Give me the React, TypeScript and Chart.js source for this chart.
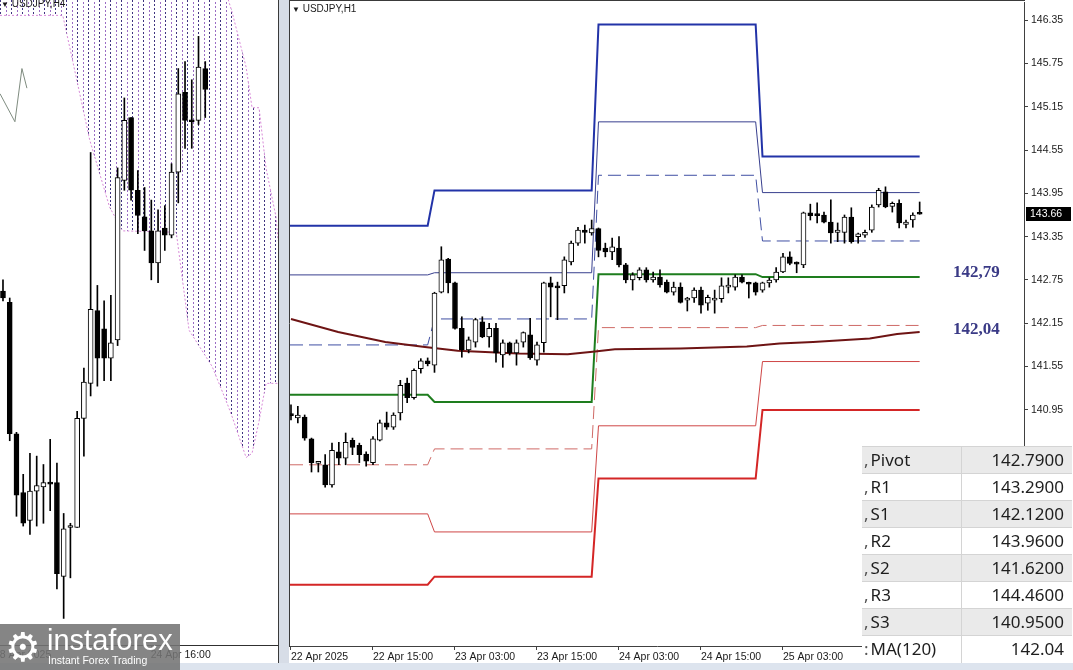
import React, { useEffect, useRef } from 'react';
import { Chart, registerables } from 'chart.js';

Chart.register(...registerables);

// ================= H1 (main panel) data =================
const H1_OPEN = [
  140.89, 140.84, 140.85, 140.55, 140.21, 140.19, 139.91, 140.37, 140.28, 140.53,
  140.46, 140.34, 140.22, 140.53, 140.77, 140.71, 140.91, 141.32, 141.12, 141.52,
  141.63, 141.57, 142.58, 143.04, 142.71, 142.08, 141.78, 141.89, 142.17, 141.96,
  142.08, 141.71, 141.88, 141.74, 141.89, 141.99, 141.64, 141.88, 142.71, 142.65,
  142.67, 143.00, 143.26, 143.44, 143.40, 143.46, 143.19, 143.14, 143.19, 142.96,
  142.75, 142.78, 142.89, 142.75, 142.79, 142.72, 142.58, 142.65, 142.47, 142.50,
  142.61, 142.43, 142.47, 142.49, 142.65, 142.65, 142.79, 142.71, 142.71, 142.61,
  142.71, 142.75, 142.86, 143.07, 142.98, 142.96, 143.68, 143.66, 143.65, 143.55,
  143.41, 143.41, 143.62, 143.35, 143.37, 143.44, 143.79, 143.97, 143.77, 143.81,
  143.52, 143.58, 143.67,
];
const H1_HIGH = [
  141.02, 141.00, 140.88, 140.56, 140.23, 140.33, 140.49, 140.50, 140.63, 140.56,
  140.49, 140.37, 140.58, 140.81, 140.92, 140.91, 141.36, 141.39, 141.52, 141.66,
  141.67, 142.58, 143.21, 143.05, 142.72, 142.24, 141.96, 142.22, 142.24, 142.15,
  142.15, 141.92, 141.89, 141.92, 142.03, 142.22, 141.89, 142.72, 142.79, 142.72,
  143.07, 143.29, 143.48, 143.51, 143.58, 143.47, 143.26, 143.33, 143.35, 142.98,
  142.85, 142.92, 142.92, 142.86, 142.89, 142.75, 142.72, 142.71, 142.51, 142.64,
  142.65, 142.54, 142.61, 142.78, 142.78, 142.82, 142.82, 142.72, 142.72, 142.72,
  142.78, 142.92, 143.12, 143.14, 143.00, 143.69, 143.80, 143.82, 143.69, 143.86,
  143.54, 143.65, 143.75, 143.40, 143.44, 143.79, 144.02, 144.04, 143.83, 143.86,
  143.58, 143.68, 143.83,
];
const H1_LOW = [
  140.81, 140.77, 140.53, 140.09, 140.09, 139.88, 139.88, 140.19, 140.19, 140.33,
  140.22, 140.17, 140.19, 140.52, 140.68, 140.68, 140.81, 141.05, 141.10, 141.46,
  141.56, 141.47, 142.57, 142.57, 142.07, 141.68, 141.74, 141.82, 141.95, 141.82,
  141.61, 141.54, 141.71, 141.57, 141.82, 141.65, 141.57, 141.75, 142.24, 142.20,
  142.57, 142.96, 143.23, 143.26, 143.37, 143.07, 143.07, 143.03, 142.93, 142.71,
  142.61, 142.75, 142.72, 142.72, 142.65, 142.57, 142.54, 142.43, 142.32, 142.44,
  142.29, 142.33, 142.29, 142.44, 142.57, 142.61, 142.71, 142.50, 142.54, 142.58,
  142.65, 142.72, 142.85, 142.96, 142.85, 142.92, 143.58, 143.54, 143.54, 143.26,
  143.28, 143.26, 143.26, 143.26, 143.34, 143.41, 143.76, 143.75, 143.69, 143.47,
  143.47, 143.48, 143.66,
];
const H1_CLOSE = [
  140.87, 140.88, 140.56, 140.22, 140.22, 139.91, 140.39, 140.28, 140.50, 140.43,
  140.33, 140.24, 140.55, 140.77, 140.71, 140.88, 141.29, 141.12, 141.50, 141.63,
  141.59, 142.57, 143.03, 142.71, 142.08, 141.78, 141.92, 142.20, 141.96, 142.08,
  141.74, 141.88, 141.74, 141.88, 142.02, 141.67, 141.85, 142.71, 142.65, 142.64,
  143.03, 143.26, 143.44, 143.41, 143.46, 143.16, 143.14, 143.21, 142.96, 142.75,
  142.82, 142.89, 142.75, 142.79, 142.68, 142.58, 142.65, 142.44, 142.50, 142.61,
  142.40, 142.51, 142.50, 142.67, 142.67, 142.79, 142.72, 142.69, 142.58, 142.71,
  142.75, 142.86, 143.07, 142.98, 142.97, 143.68, 143.64, 143.64, 143.55, 143.40,
  143.44, 143.62, 143.28, 143.39, 143.41, 143.76, 143.99, 143.76, 143.81, 143.54,
  143.55, 143.65, 143.66,
];

// first bar of each trading day (22, 23, 24, 25 Apr)
const DAY_START = [0, 21, 45, 69];
const LEVEL_R3 = [143.50, 143.99, 146.29, 144.46];
const LEVEL_R2 = [142.82, 142.85, 144.94, 143.96];
const LEVEL_R1 = [141.85, 142.21, 144.20, 143.29];
const LEVEL_PIVOT = [141.16, 141.06, 142.83, 142.79];
const LEVEL_S1 = [140.19, 140.41, 142.09, 142.12];
const LEVEL_S2 = [139.51, 139.26, 140.73, 141.62];
const LEVEL_S3 = [138.53, 138.64, 140.00, 140.95];

const MA_X = [0, 6.9, 13.8, 19.6, 24.4, 33.2, 40.5, 44.5, 47.4, 57, 66.7, 71.5, 76.4, 84.7, 88.7, 92];
const MA_VALUES = [142.21, 142.03, 141.89, 141.82, 141.77, 141.73, 141.72, 141.76, 141.79, 141.80, 141.83, 141.87, 141.89, 141.94, 142.00, 142.03];

const H1_X_TICKS = [0, 12, 24, 36, 48, 60, 72, 84];
const H1_X_LABELS = ['22 Apr 2025', '22 Apr 15:00', '23 Apr 03:00', '23 Apr 15:00', '24 Apr 03:00', '24 Apr 15:00', '25 Apr 03:00', '25 Apr 15:00'];
const H1_Y_TICKS = [146.35, 145.75, 145.15, 144.55, 143.95, 143.35, 142.75, 142.15, 141.55, 140.95, 140.35, 139.75, 139.15, 138.55, 137.95];

const LEVEL_TAGS = [142.79, 142.04];

const TABLE_NAMES = ['Pivot', 'R1', 'S1', 'R2', 'S2', 'R3', 'S3', 'MA(120)'];
const TABLE_VALUES = ['142.7900', '143.2900', '142.1200', '143.9600', '141.6200', '144.4600', '140.9500', '142.04'];

// ================= H4 (left panel) data =================
const H4_OPEN = [142.22, 142.14, 141.20, 140.78, 140.58, 140.79, 140.82, 140.85, 140.85, 140.18, 140.53, 140.53, 141.31, 141.56, 142.08, 141.95, 141.74, 141.87, 143.01, 143.46, 142.94, 142.75, 142.65, 142.42, 142.67, 142.62, 143.07, 143.64, 143.44, 143.44, 143.81];
const H4_HIGH = [142.30, 142.17, 141.21, 140.91, 141.06, 141.04, 140.98, 141.16, 140.99, 140.63, 140.56, 141.36, 141.67, 143.21, 142.26, 142.15, 142.19, 143.10, 143.60, 143.46, 143.08, 142.96, 142.87, 142.80, 142.83, 143.13, 143.81, 143.86, 143.73, 144.04, 143.86];
const H4_LOW = [142.15, 141.15, 140.61, 140.54, 140.48, 140.54, 140.56, 140.65, 140.09, 139.88, 140.17, 140.53, 141.04, 141.47, 141.54, 141.58, 141.58, 141.83, 142.94, 142.87, 142.63, 142.51, 142.30, 142.28, 142.51, 142.60, 142.85, 143.24, 143.24, 143.41, 143.46];
const H4_CLOSE = [142.17, 141.20, 140.76, 140.56, 140.79, 140.83, 140.85, 140.84, 140.20, 140.52, 140.54, 141.31, 141.57, 142.09, 141.74, 141.74, 141.85, 143.03, 143.44, 142.94, 142.76, 142.65, 142.42, 142.65, 142.62, 143.07, 143.63, 143.44, 143.43, 143.82, 143.66];

const CLOUD_X = [-0.44, 8.87, 10.94, 12.86, 15.81, 17.73, 25.7, 27.6, 31.03, 33.3, 34.0, 36.06, 36.94, 37.98, 39.01, 40.49, 40.8];
const CLOUD_UPPER = [144.5, 144.5, 144.5, 144.5, 144.5, 144.5, 144.5, 144.5, 144.5, 144.32, 144.21, 143.82, 143.53, 143.53, 143.10, 142.75, 142.58];
const CLOUD_LOWER = [144.19, 144.19, 143.73, 143.30, 142.82, 142.65, 142.64, 141.94, 141.68, 141.41, 141.32, 141.03, 141.06, 141.29, 141.56, 141.56, 141.56];

const H4_LINE_X = [-0.44, 1.77, 2.81, 3.55];
const H4_LINE_VALUES = [143.63, 143.43, 143.81, 143.67];

const H4_X_TICKS = [-1.33, 21.9];
const H4_X_LABELS = ['18 Apr 2025', '24 Apr 16:00'];

// ================= helpers =================
const AXIS_FONT = "10.5px 'Liberation Sans', Arial, sans-serif";

function candleDatasets(open: number[], high: number[], low: number[], close: number[], thickness: number) {
  const idx = open.map((_, i) => i);
  return [
    {
      type: 'bar',
      data: idx.map((i) => ({ x: i, y: [low[i], high[i]] })),
      backgroundColor: '#000',
      borderWidth: 0,
      barThickness: 1,
      grouped: false,
      order: 1,
    },
    {
      type: 'bar',
      data: idx.map((i) => ({ x: i, y: [open[i], close[i]] })),
      backgroundColor: idx.map((i) => (close[i] >= open[i] ? '#ffffff' : '#000000')),
      borderColor: '#000',
      borderWidth: 1,
      borderSkipped: false,
      barThickness: thickness,
      minBarLength: 2,
      grouped: false,
      order: 0,
    },
  ];
}

function stepPoints(levels: number[], xMin: number, lastBar: number) {
  const pts: { x: number; y: number }[] = [];
  levels.forEach((v, d) => {
    const from = d === 0 ? xMin : DAY_START[d];
    const to = d + 1 < DAY_START.length ? DAY_START[d + 1] - 1 : lastBar;
    pts.push({ x: from, y: v }, { x: to, y: v });
  });
  return pts;
}

function levelLine(levels: number[], color: string, width: number, dash: number[], xMin: number) {
  return {
    type: 'line',
    data: stepPoints(levels, xMin, H1_CLOSE.length - 1),
    borderColor: color,
    borderWidth: width,
    borderDash: dash,
    pointRadius: 0,
    fill: false,
    tension: 0,
    order: 3,
  };
}

function makeCloudPattern(): any {
  const c = document.createElement('canvas');
  c.width = 11;
  c.height = 4;
  const g = c.getContext('2d')!;
  g.fillStyle = '#3f3480';
  g.fillRect(0, 0, 1, 2);
  g.fillStyle = '#9a6cc4';
  g.fillRect(6, 2, 1, 2);
  return g.createPattern(c, 'repeat');
}

const whiteBg = {
  id: 'whiteBg',
  beforeDraw(chart: any) {
    const { ctx, width, height } = chart;
    ctx.save();
    ctx.fillStyle = '#ffffff';
    ctx.fillRect(0, 0, width, height);
    ctx.restore();
  },
};

const leftAxisPlugin = {
  id: 'leftAxis',
  afterDraw(chart: any) {
    const { ctx, chartArea, scales } = chart;
    ctx.save();
    ctx.strokeStyle = '#303030';
    ctx.lineWidth = 1;
    ctx.beginPath();
    ctx.moveTo(0, chartArea.bottom + 0.5);
    ctx.lineTo(chart.width, chartArea.bottom + 0.5);
    ctx.stroke();
    ctx.font = AXIS_FONT;
    ctx.fillStyle = '#1a1a1a';
    ctx.textBaseline = 'top';
    ctx.textAlign = 'left';
    H4_X_TICKS.forEach((v, i) => {
      const px = scales.x.getPixelForValue(v);
      ctx.beginPath();
      ctx.moveTo(Math.round(px) + 0.5, chartArea.bottom);
      ctx.lineTo(Math.round(px) + 0.5, chartArea.bottom + 4);
      ctx.stroke();
      ctx.fillText(H4_X_LABELS[i], px, chartArea.bottom + 5);
    });
    ctx.restore();
  },
};

const mainExtras = {
  id: 'mainExtras',
  afterDraw(chart: any) {
    const { ctx, chartArea, scales } = chart;
    ctx.save();
    ctx.strokeStyle = '#3a3a3a';
    ctx.lineWidth = 1;
    ctx.beginPath();
    ctx.moveTo(0.5, 0);
    ctx.lineTo(0.5, chartArea.bottom + 1);
    ctx.moveTo(0, 0.5);
    ctx.lineTo(chartArea.right + 1, 0.5);
    ctx.stroke();

    // last price tag
    const last = H1_CLOSE[H1_CLOSE.length - 1];
    const py = scales.y.getPixelForValue(last);
    ctx.fillStyle = '#000';
    ctx.fillRect(chartArea.right + 2, Math.round(py) - 7, 45, 14);
    ctx.fillStyle = '#fff';
    ctx.font = AXIS_FONT;
    ctx.textBaseline = 'middle';
    ctx.textAlign = 'left';
    ctx.fillText(last.toFixed(2), chartArea.right + 6, Math.round(py));

    // level tags
    const offsets = [0, 3];
    ctx.fillStyle = '#3a3a86';
    ctx.font = "bold 17px 'Liberation Serif', 'Times New Roman', serif";
    ctx.textBaseline = 'alphabetic';
    LEVEL_TAGS.forEach((v, i) => {
      const y = scales.y.getPixelForValue(v) + offsets[i];
      ctx.fillText(v.toFixed(2).replace('.', ','), 664, y);
    });
    ctx.restore();
  },
};

function buildLeftConfig(pattern: any): any {
  return {
    type: 'line',
    data: {
      datasets: [
        {
          type: 'line',
          data: CLOUD_X.map((x, i) => ({ x, y: CLOUD_UPPER[i] })),
          borderColor: '#d98ad9',
          borderWidth: 1,
          borderDash: [2, 2],
          pointRadius: 0,
          tension: 0,
          fill: '+1',
          backgroundColor: pattern,
          order: 5,
        },
        {
          type: 'line',
          data: CLOUD_X.map((x, i) => ({ x, y: CLOUD_LOWER[i] })),
          borderColor: '#d98ad9',
          borderWidth: 1,
          borderDash: [2, 2],
          pointRadius: 0,
          tension: 0,
          fill: false,
          order: 6,
        },
        {
          type: 'line',
          data: H4_LINE_X.map((x, i) => ({ x, y: H4_LINE_VALUES[i] })),
          borderColor: '#7f8c80',
          borderWidth: 1,
          pointRadius: 0,
          tension: 0,
          fill: false,
          order: 4,
        },
        ...candleDatasets(H4_OPEN, H4_HIGH, H4_LOW, H4_CLOSE, 5),
      ],
    },
    options: {
      responsive: false,
      animation: false,
      events: [],
      layout: { padding: { left: 0, right: 0, top: 0, bottom: 18 } },
      plugins: { legend: { display: false }, tooltip: { enabled: false } },
      scales: {
        x: { type: 'linear', min: -0.443, max: 40.79, display: false, offset: false, bounds: 'data' },
        y: { type: 'linear', min: 139.69, max: 144.30, display: false, bounds: 'data' },
      },
    },
    plugins: [whiteBg, leftAxisPlugin],
  };
}

function buildMainConfig(): any {
  const xMin = -0.146;
  return {
    type: 'line',
    data: {
      datasets: [
        levelLine(LEVEL_R3, '#2233a8', 2, [], xMin),
        levelLine(LEVEL_R2, '#383f8e', 1, [], xMin),
        levelLine(LEVEL_R1, '#3f4fa3', 1, [13, 6], xMin),
        levelLine(LEVEL_PIVOT, '#1e7d1e', 2, [], xMin),
        levelLine(LEVEL_S1, '#cf6a66', 1, [13, 6], xMin),
        levelLine(LEVEL_S2, '#cf4646', 1, [], xMin),
        levelLine(LEVEL_S3, '#d42626', 2, [], xMin),
        {
          type: 'line',
          data: MA_X.map((x, i) => ({ x, y: MA_VALUES[i] })),
          borderColor: '#6e1414',
          borderWidth: 2,
          pointRadius: 0,
          tension: 0,
          fill: false,
          order: 2,
        },
        ...candleDatasets(H1_OPEN, H1_HIGH, H1_LOW, H1_CLOSE, 5),
      ],
    },
    options: {
      responsive: false,
      animation: false,
      events: [],
      layout: { padding: { left: 1, right: 0, top: 2, bottom: 0 } },
      plugins: { legend: { display: false }, tooltip: { enabled: false } },
      scales: {
        x: {
          type: 'linear',
          min: xMin,
          max: 107.27,
          offset: false,
          bounds: 'data',
          afterBuildTicks: (s: any) => {
            s.ticks = H1_X_TICKS.map((v) => ({ value: v }));
          },
          afterFit: (s: any) => {
            s.height = 17;
            s.paddingLeft = 0;
            s.paddingRight = 0;
          },
          ticks: {
            callback: (_v: any, i: number) => H1_X_LABELS[i],
            align: 'start',
            maxRotation: 0,
            minRotation: 0,
            autoSkip: false,
            padding: 1,
            color: '#1a1a1a',
            font: { size: 10.5, family: "'Liberation Sans', Arial, sans-serif" },
          },
          grid: { drawOnChartArea: false, drawTicks: true, tickLength: 4, color: '#404040', offset: false },
          border: { display: true, color: '#404040', width: 1 },
        },
        y: {
          type: 'linear',
          position: 'right',
          min: 137.68,
          max: 146.6,
          bounds: 'data',
          afterBuildTicks: (s: any) => {
            s.ticks = H1_Y_TICKS.map((v) => ({ value: v }));
          },
          afterFit: (s: any) => {
            s.width = 49;
            s.paddingTop = 0;
            s.paddingBottom = 0;
          },
          ticks: {
            callback: (v: any) => Number(v).toFixed(2),
            autoSkip: false,
            padding: 3,
            color: '#1a1a1a',
            font: { size: 10.5, family: "'Liberation Sans', Arial, sans-serif" },
          },
          grid: { drawOnChartArea: false, drawTicks: true, tickLength: 4, color: '#404040' },
          border: { display: true, color: '#404040', width: 1 },
        },
      },
    },
    plugins: [whiteBg, mainExtras],
  };
}

export default function App() {
  const leftRef = useRef<HTMLCanvasElement | null>(null);
  const mainRef = useRef<HTMLCanvasElement | null>(null);

  useEffect(() => {
    Chart.defaults.font.family = "'Liberation Sans', Arial, sans-serif";
    const pattern = makeCloudPattern();
    const left = new Chart(leftRef.current as any, buildLeftConfig(pattern));
    const main = new Chart(mainRef.current as any, buildMainConfig());
    return () => {
      left.destroy();
      main.destroy();
    };
  }, []);

  const sans = "'Liberation Sans', Arial, sans-serif";

  return (
    <div
      style={{
        position: 'fixed',
        left: 0,
        top: 0,
        width: 1073,
        height: 670,
        overflow: 'hidden',
        background: '#ffffff',
        fontFamily: sans,
      }}
    >
      <div style={{ position: 'absolute', left: 0, top: 0, width: 278, height: 663 }}>
        <canvas ref={leftRef} width={278} height={663} style={{ display: 'block' }} />
      </div>
      <div style={{ position: 'absolute', left: 278, top: 0, width: 1, height: 670, background: '#3a3a3a' }} />
      <div style={{ position: 'absolute', left: 279, top: 0, width: 10, height: 670, background: '#d7dde7' }} />
      <div style={{ position: 'absolute', left: 289, top: 0, width: 784, height: 663 }}>
        <canvas ref={mainRef} width={784} height={663} style={{ display: 'block' }} />
      </div>
      <div style={{ position: 'absolute', left: 0, top: 663, width: 1073, height: 7, background: '#dde4ee' }} />

      <div
        style={{
          position: 'absolute',
          left: 1,
          top: -2,
          fontSize: 10,
          lineHeight: '12px',
          color: '#1a1a1a',
          whiteSpace: 'nowrap',
        }}
      >
        <span style={{ fontSize: 8 }}>▼</span> USDJPY,H4
      </div>
      <div
        style={{
          position: 'absolute',
          left: 292,
          top: 3,
          fontSize: 10,
          lineHeight: '12px',
          color: '#1a1a1a',
          whiteSpace: 'nowrap',
        }}
      >
        <span style={{ fontSize: 8 }}>▼</span> USDJPY,H1
      </div>

      <table
        style={{
          position: 'absolute',
          left: 862,
          top: 446,
          borderCollapse: 'collapse',
          fontFamily: "'Noto Sans', 'Open Sans', sans-serif",
          fontSize: 17,
          color: '#1e1e1e',
          tableLayout: 'fixed',
          width: 208,
        }}
      >
        <tbody>
          {TABLE_NAMES.map((name, i) => (
            <tr key={name} style={{ height: 27, background: i % 2 === 0 ? '#eaeaea' : '#ffffff' }}>
              <td
                style={{
                  width: 97,
                  padding: '0 0 0 2px',
                  borderTop: '1px solid #d4d4d4',
                  borderRight: '1px solid #d4d4d4',
                  whiteSpace: 'nowrap',
                  overflow: 'hidden',
                  lineHeight: '26px',
                }}
              >
                <span style={{ color: '#555', marginRight: 2 }}>{i === TABLE_NAMES.length - 1 ? ':' : ','}</span>
                {name}
              </td>
              <td
                style={{
                  width: 102,
                  padding: '0 8px 0 0',
                  textAlign: 'right',
                  borderTop: '1px solid #d4d4d4',
                  whiteSpace: 'nowrap',
                  lineHeight: '26px',
                }}
              >
                {TABLE_VALUES[i]}
              </td>
            </tr>
          ))}
        </tbody>
      </table>

      <div
        style={{
          position: 'absolute',
          left: 0,
          top: 624,
          width: 180,
          height: 46,
          background: 'rgba(116,116,116,0.88)',
          color: '#ffffff',
          overflow: 'hidden',
        }}
      >
        <div
          style={{
            position: 'absolute',
            left: 5,
            top: 0,
            fontSize: 40,
            lineHeight: '46px',
            fontFamily: "'DejaVu Sans', sans-serif",
          }}
        >
          ⚙
        </div>
        <div style={{ position: 'absolute', left: 47, top: 1, fontSize: 29, lineHeight: '30px', fontFamily: sans }}>
          instaforex
        </div>
        <div style={{ position: 'absolute', left: 48, top: 30, fontSize: 10.5, lineHeight: '12px', fontFamily: sans }}>
          Instant Forex Trading
        </div>
      </div>
    </div>
  );
}
